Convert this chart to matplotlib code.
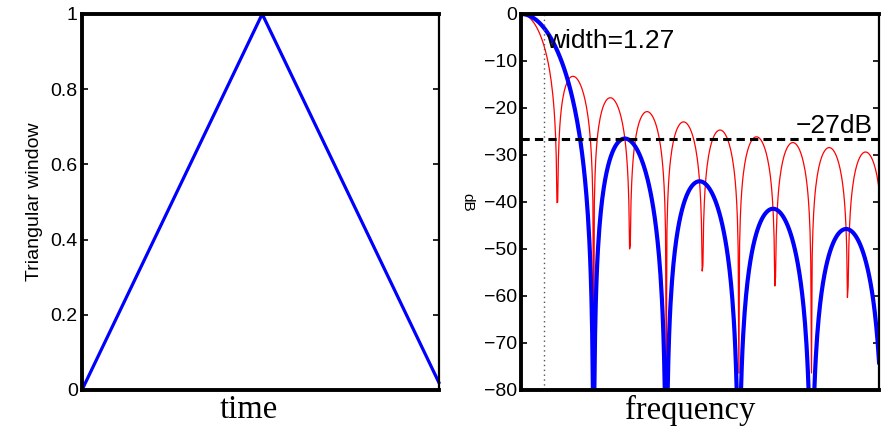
import numpy as np
import matplotlib
matplotlib.use("Agg")
import matplotlib.pyplot as plt

# Ventana triangular (vertices)
t_vertex = [0.0, 0.5, 1.0]
w_vertex = [0.0, 1.0, 0.0]

# Parametros del espectro
n_samples = 100
freq_max = 9.86          # en bins
bw_3db = 1.27            # ancho del lobulo principal
sidelobe_db = -26.5      # nivel del lobulo lateral
sidelobe_text = "\u221227dB"

plt.rcParams["font.family"] = ["Liberation Sans", "DejaVu Sans"]


def spectrum_db(w, f_bins):
    n = np.arange(len(w))
    W = np.exp(-2j * np.pi * np.outer(f_bins, n) / len(w)) @ w
    return 20 * np.log10(np.abs(W) / np.abs(W[0]) + 1e-12)


# Ventanas muestreadas
t = np.arange(n_samples) / n_samples
w_tri = np.interp(t, t_vertex, w_vertex)
w_rect = np.ones(n_samples)

# rejilla de frecuencia (paso de la fft con relleno de ceros)
f = np.arange(0, freq_max + 0.01, 2 / 101 * 1.00015)
tri_db = spectrum_db(w_tri, f)
rect_db = spectrum_db(w_rect, f)

fig = plt.figure(figsize=(8.9, 4.28), dpi=100)
ax1 = fig.add_axes([0.0921, 0.0888, 0.401, 0.8785])
ax2 = fig.add_axes([0.5854, 0.0888, 0.4022, 0.8785])

# Panel izquierdo
ax1.plot(t, w_tri, color="#0000ff", lw=2.3, clip_on=False)
ax1.set_xlim(0, t[-1])
ax1.set_ylim(0, 1)
ax1.set_xticks([])
ax1.set_yticks(np.arange(0, 1.01, 0.2))
ax1.set_yticklabels(["0", "0.2", "0.4", "0.6", "0.8", "1"])
ax1.set_ylabel("Triangular window", fontsize=14)
ax1.yaxis.set_label_coords(-0.11, 0.5)
ax1.set_xlabel("time", fontsize=23.5, family="Liberation Serif")
ax1.xaxis.set_label_coords(0.468, -0.012)

# Panel derecho
ax2.plot(f, rect_db, color="#ff0000", lw=0.9)
ax2.plot(f, tri_db, color="#0000ff", lw=3.0)
ax2.axhline(sidelobe_db, color="black", lw=2.2, ls=(0, (2.7, 1.7)))
ax2.axvline(bw_3db / 2, color="#555555", lw=1.0, ls=(0, (1, 2.5)))
ax2.text(bw_3db / 2 + 0.05, -7.2, f"width={bw_3db}", fontsize=19,
         va="baseline", ha="left")
ax2.text(freq_max - 0.17, -25.3, sidelobe_text, fontsize=19,
         va="baseline", ha="right")
ax2.set_xlim(0, freq_max)
ax2.set_ylim(-80, 0)
ax2.set_xticks([])
ax2.set_yticks(np.arange(-80, 1, 10))
ax2.set_ylabel("dB", fontsize=11, rotation=-90, va="center")
ax2.yaxis.set_label_coords(-0.15, 0.5)
ax2.set_xlabel("frequency", fontsize=23.5, family="Liberation Serif")
ax2.xaxis.set_label_coords(0.472, -0.012)

for ax in (ax1, ax2):
    ax.tick_params(axis="y", direction="in", length=4, width=1.2,
                   right=True, labelsize=14, pad=3)
    for side in ("left", "bottom", "top"):
        ax.spines[side].set_linewidth(2.8)
    ax.spines["right"].set_linewidth(1.6)

fig.savefig("out.png", dpi=100)
